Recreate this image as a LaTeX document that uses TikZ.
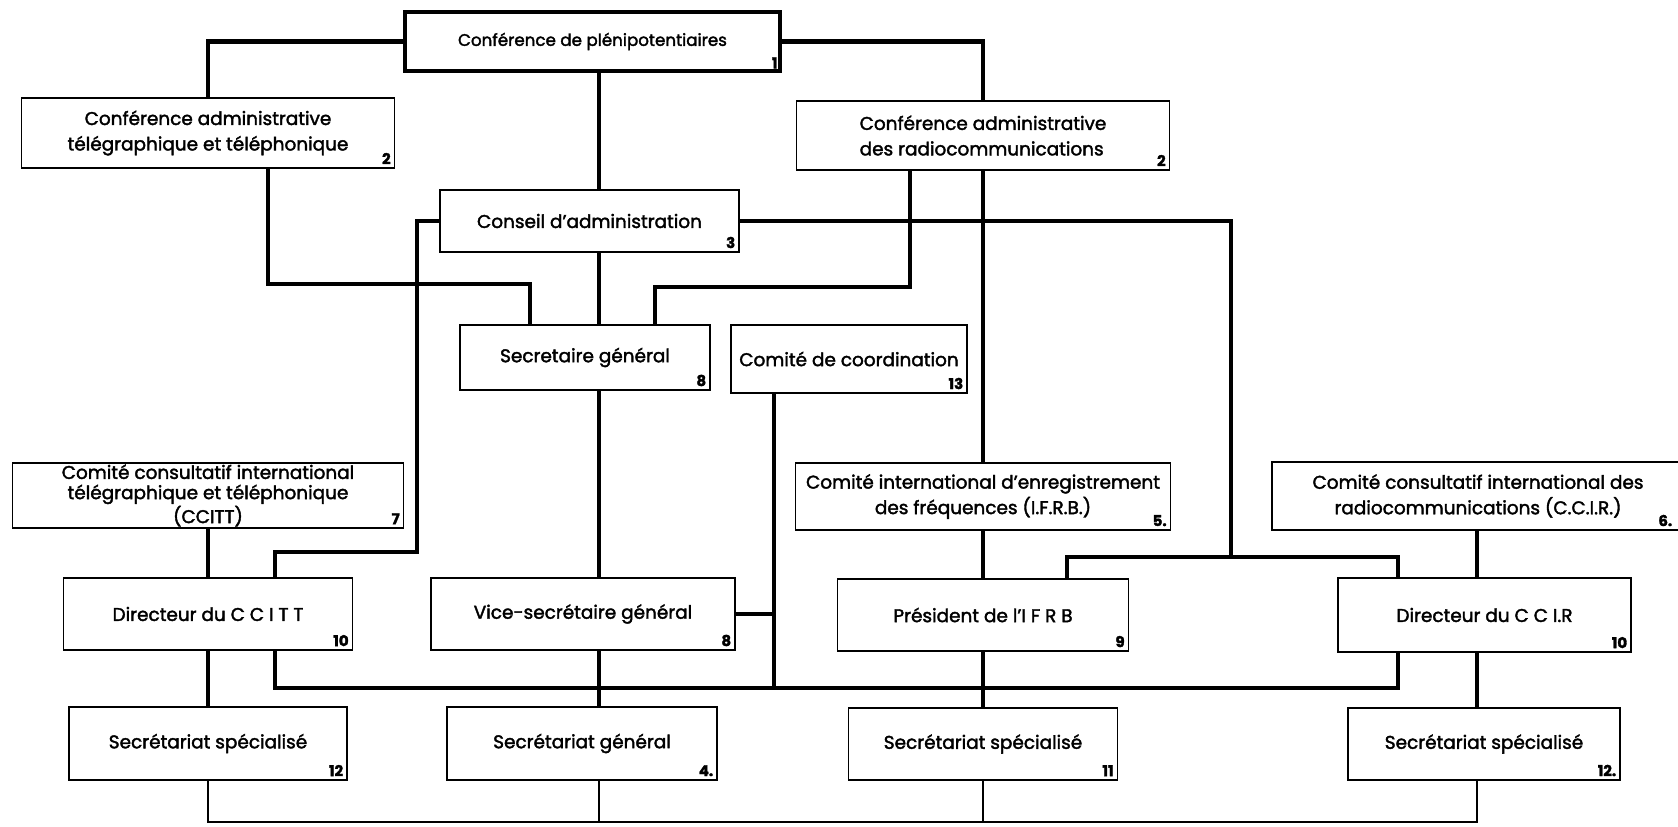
\documentclass[tikz,border=0pt]{standalone}
\usepackage{fontspec}
\setmainfont{Poppins}[FakeBold=2]
\usepackage{tikz}

\begin{document}
\begin{tikzpicture}[x=0.2mm,y=-0.2mm,
        unit/.style={draw,line width=1pt,align=center,inner sep=0pt,font=\fontsize{10.5}{14.5}\selectfont},
        nrlabel/.style={anchor=south east,inner sep=2.5pt,font=\bfseries\fontsize{8.5}{8.5}\selectfont},
        nr/.style={label={[nrlabel]south east:#1}},
        link/.style={line width=2.4pt},
        thinlink/.style={line width=1.3pt}]
        \useasboundingbox (0,0) rectangle (1678,826);

        % Boxes, top to bottom
        \node[unit,font=\fontsize{9.5}{12}\selectfont,line width=2.6pt,minimum width=75mm,minimum height=11.8mm,nr=1] (cp) at (592.5,41.5) {Conférence de plénipotentiaires};
        \node[unit,minimum width=74.6mm,minimum height=14mm,nr=2] (catt) at (208,133) {Conférence administrative\\télégraphique et téléphonique};
        \node[unit,align=left,minimum width=74.6mm,minimum height=13.8mm,nr=2] (car) at (983,135.5) {Conférence administrative\\des radiocommunications};
        \node[unit,minimum width=59.8mm,minimum height=12.4mm,nr=3] (ca) at (589.5,221) {Conseil d'administration};
        \node[unit,minimum width=50mm,minimum height=13mm,nr=8] (sg) at (585,357.5) {Secretaire général};
        \node[unit,minimum width=47.2mm,minimum height=13.6mm,nr=13] (cc) at (849,359) {Comité de coordination};
        \node[unit,font=\fontsize{10.5}{11.5}\selectfont,minimum width=78.2mm,minimum height=13mm,nr=7] (ccitt) at (208,495.5) {Comité consultatif international\\télégraphique et téléphonique\\(CCITT)};
        \node[unit,minimum width=75mm,minimum height=13.4mm,nr=5.] (ifrb) at (983,496.5) {Comité international d'enregistrement\\des fréquences (I.F.R.B.)};
        \node[unit,minimum width=82.4mm,minimum height=13.6mm,label={[nrlabel,xshift=-1.6mm]south east:6.}] (ccir) at (1478,496) {Comité consultatif international des\\radiocommunications (C.C.I.R.)};
        \node[unit,minimum width=57.8mm,minimum height=14.4mm,nr=10] (dccitt) at (208,614) {Directeur du C C I T T};
        \node[unit,minimum width=60.8mm,minimum height=14.4mm,nr=8] (vsg) at (583,614) {Vice-secrétaire général};
        \node[unit,minimum width=58.2mm,minimum height=14.4mm,nr=9] (pifrb) at (983,615) {Président de l'I F R B};
        \node[unit,minimum width=58.6mm,minimum height=14.8mm,nr=10] (dccir) at (1484.5,615) {Directeur du C C I.R};
        \node[unit,minimum width=55.6mm,minimum height=14.6mm,nr=12] (ss1) at (208,743.5) {Secrétariat spécialisé};
        \node[unit,minimum width=54mm,minimum height=14.6mm,nr=4.] (sgen) at (582,743.5) {Secrétariat général};
        \node[unit,minimum width=53.8mm,minimum height=14.4mm,nr=11] (ss2) at (983,744) {Secrétariat spécialisé};
        \node[unit,minimum width=54.4mm,minimum height=14.4mm,nr=12.] (ss3) at (1484,744) {Secrétariat spécialisé};

        % Columns and base line
        \coordinate (spine) at (599,0);
        \coordinate (rcol) at (1477,0);
        \coordinate (base) at (0,822);

        % Lines from the top
        \draw[link] (cp.west) -| (catt.north);
        \draw[link] (cp.east) -| (car.north);
        \draw[link] (spine |- cp.south) -- (spine |- ca.north);
        \draw[link] ([xshift=12mm]catt.south) -- ++(0,115) -| ([xshift=-11mm]sg.north);
        \draw[link] ([xshift=-14.6mm]car.south) -- ++(0,116) -| ([xshift=14mm]sg.north);
        \draw[link] (car.south) -- (ifrb.north);

        % Lines from the council
        \draw[link] (spine |- ca.south) -- (spine |- sg.north);
        \draw[link] (ca.west) -- ++(-22,0) -- ++(0,331) -| ([xshift=13.4mm]dccitt.north);
        \draw[link] (ca.east) -- ++(491,0) -- ++(0,336) coordinate (cj);
        \draw[link] ([xshift=16.8mm]pifrb.north) |- (cj) -| ([xshift=-17.3mm]dccir.north);

        % Middle lines
        \draw[link] (spine |- sg.south) -- (spine |- vsg.north);
        \draw[link] ([xshift=-15mm]cc.south) -- ++(0,294) coordinate (ccj);
        \draw[link] (vsg.east) -- (vsg.east -| ccj);
        \draw[link] ([xshift=13.4mm]dccitt.south) -- ++(0,37) -| ([xshift=-17.3mm]dccir.south);
        \draw[link] (ccitt.south) -- (dccitt.north);
        \draw[link] (ifrb.south) -- (pifrb.north);
        \draw[link] (rcol |- ccir.south) -- (rcol |- dccir.north);

        % Lines to the secretariats
        \draw[link] (dccitt.south) -- (ss1.north);
        \draw[link] (spine |- vsg.south) -- (spine |- sgen.north);
        \draw[link] (pifrb.south) -- (ss2.north);
        \draw[link] (rcol |- dccir.south) -- (rcol |- ss3.north);

        % Base line
        \draw[thinlink] (ss1.south) -- (ss1.south |- base) -- (rcol |- base) -- (rcol |- ss3.south);
        \draw[thinlink] (spine |- sgen.south) -- (spine |- base);
        \draw[thinlink] (ss2.south) -- (ss2.south |- base);
\end{tikzpicture}
\end{document}
